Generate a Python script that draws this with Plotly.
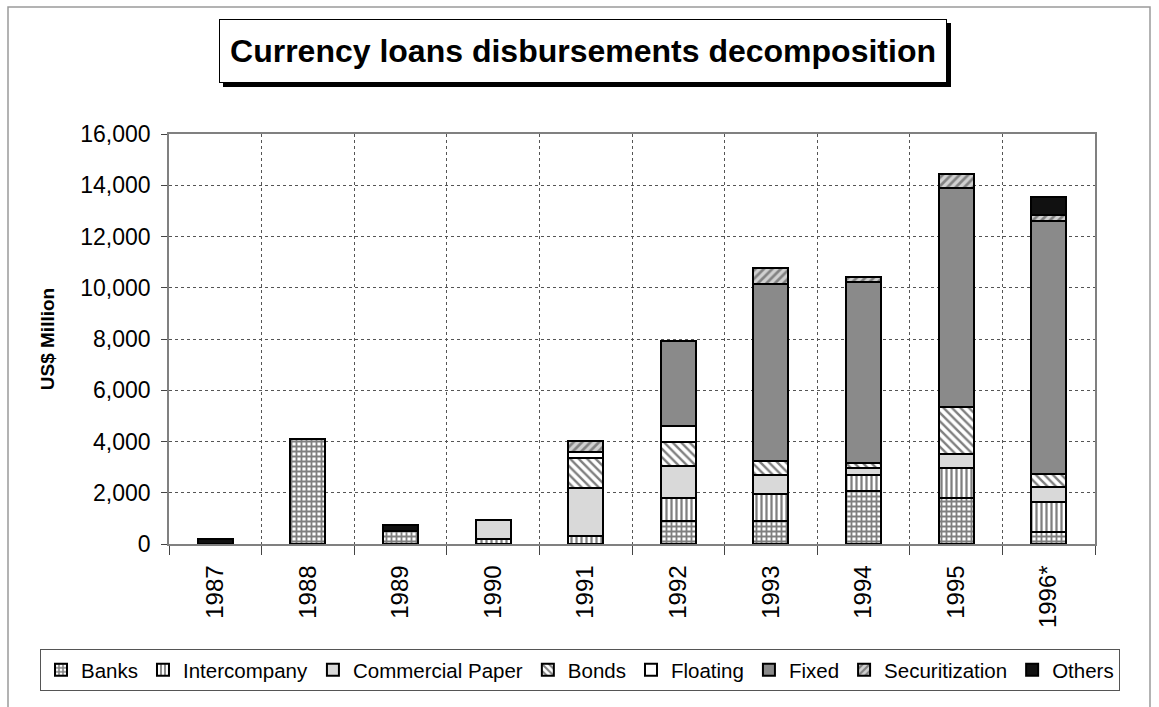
import plotly.graph_objects as go

years = ["1987", "1988", "1989", "1990", "1991", "1992", "1993", "1994", "1995", "1996*"]

# US$ million, None where the component is absent
banks = [None, 4100, 500, None, None, 900, 900, 2070, 1810, 450]
intercompany = [None, None, None, 200, 300, 910, 1035, 640, 1160, 1200]
commercial_paper = [None, None, None, 750, 1890, 1220, 775, 260, 560, 580]
bonds = [None, None, None, None, 1150, 970, 520, 190, 1830, 520]
floating = [None, None, None, None, 260, 590, None, None, None, None]
fixed = [None, None, None, None, None, 3330, 6920, 7050, 8550, 9860]
securitization = [None, None, None, None, 420, None, 620, 200, 520, 230]
others = [180, None, 230, None, None, None, None, None, None, 720]

y_ticks = [0, 2000, 4000, 6000, 8000, 10000, 12000, 14000, 16000]

FONT = "Liberation Sans, Arial, sans-serif"
W, H = 1159, 707
ML, MR, MT, MB = 169, 64, 134, 163


def px_x(x):
    return (x - ML) / (W - ML - MR)


def px_y(y):
    return (H - MB - y) / (H - MT - MB)


series = [
    ("Banks", banks, dict(color="white", pattern=dict(shape="+", fgcolor="black", bgcolor="white", size=5, solidity=0.6))),
    ("Intercompany", intercompany, dict(color="white", pattern=dict(shape="|", fgcolor="black", bgcolor="white", size=5, solidity=0.45))),
    ("Commercial Paper", commercial_paper, dict(color="#d9d9d9")),
    ("Bonds", bonds, dict(color="white", pattern=dict(shape="\\", fgcolor="black", bgcolor="white", size=6, solidity=0.4))),
    ("Floating", floating, dict(color="white")),
    ("Fixed", fixed, dict(color="#8a8a8a")),
    ("Securitization", securitization, dict(color="white", pattern=dict(shape="/", fgcolor="#333333", bgcolor="#d0d0d0", size=6, solidity=0.45))),
    ("Others", others, dict(color="#111111")),
]

fig = go.Figure()
for name, values, marker in series:
    fig.add_trace(go.Bar(
        x=years, y=values, name=name,
        marker=dict(line=dict(color="black", width=2), **marker),
    ))

# title box with drop shadow
fig.add_shape(type="rect", xref="paper", yref="paper", layer="above",
              x0=px_x(223), x1=px_x(951), y0=px_y(87), y1=px_y(23),
              fillcolor="black", line=dict(width=0))
fig.add_annotation(
    text="<b>Currency loans disbursements decomposition</b>",
    xref="paper", yref="paper", x=px_x(583), y=px_y(51),
    xanchor="center", yanchor="middle", showarrow=False,
    width=722, height=58, borderpad=2,
    bgcolor="white", bordercolor="black", borderwidth=1,
    font=dict(family=FONT, size=32, color="black"),
)

# outer chart frame
fig.add_shape(type="rect", xref="paper", yref="paper", layer="below",
              x0=px_x(8), x1=px_x(1150), y0=px_y(712), y1=px_y(7),
              line=dict(color="#9a9a9a", width=1.5))

fig.update_layout(
    width=W, height=H,
    margin=dict(l=ML, r=MR, t=MT, b=MB, autoexpand=False),
    barmode="stack", bargap=0.62,
    paper_bgcolor="white", plot_bgcolor="white",
    font=dict(family=FONT, color="black"),
    legend=dict(
        orientation="h", x=px_x(40), xanchor="left", y=px_y(649), yanchor="top",
        font=dict(size=20.5), bordercolor="#555555", borderwidth=1,
        itemwidth=30, traceorder="normal",
    ),
)
fig.update_xaxes(
    type="category", tickson="boundaries", ticks="outside", ticklen=9,
    tickangle=-90, tickfont=dict(size=24), ticklabelstandoff=10, showgrid=True,
    gridcolor="#555555", griddash="dot", gridwidth=1,
    showline=True, linecolor="#808080", linewidth=1.5, mirror=True,
    automargin=False,
)
fig.update_yaxes(
    range=[0, 16000], tickvals=y_ticks, tickformat=",d",
    ticks="outside", ticklen=6, tickfont=dict(size=23), ticklabelstandoff=6,
    showgrid=True, gridcolor="#555555", griddash="dot", gridwidth=1,
    showline=True, linecolor="#808080", linewidth=1.5, mirror=True, zeroline=False,
    title=dict(text="<b>US$ Million</b>", font=dict(size=19), standoff=21),
    automargin=False,
)

# drop the page's default 8px body margin so the figure sits at the window origin
fig.write_html(
    "out.html",
    config={"displayModeBar": False},
    post_script="document.body.style.margin = '0';",
)
